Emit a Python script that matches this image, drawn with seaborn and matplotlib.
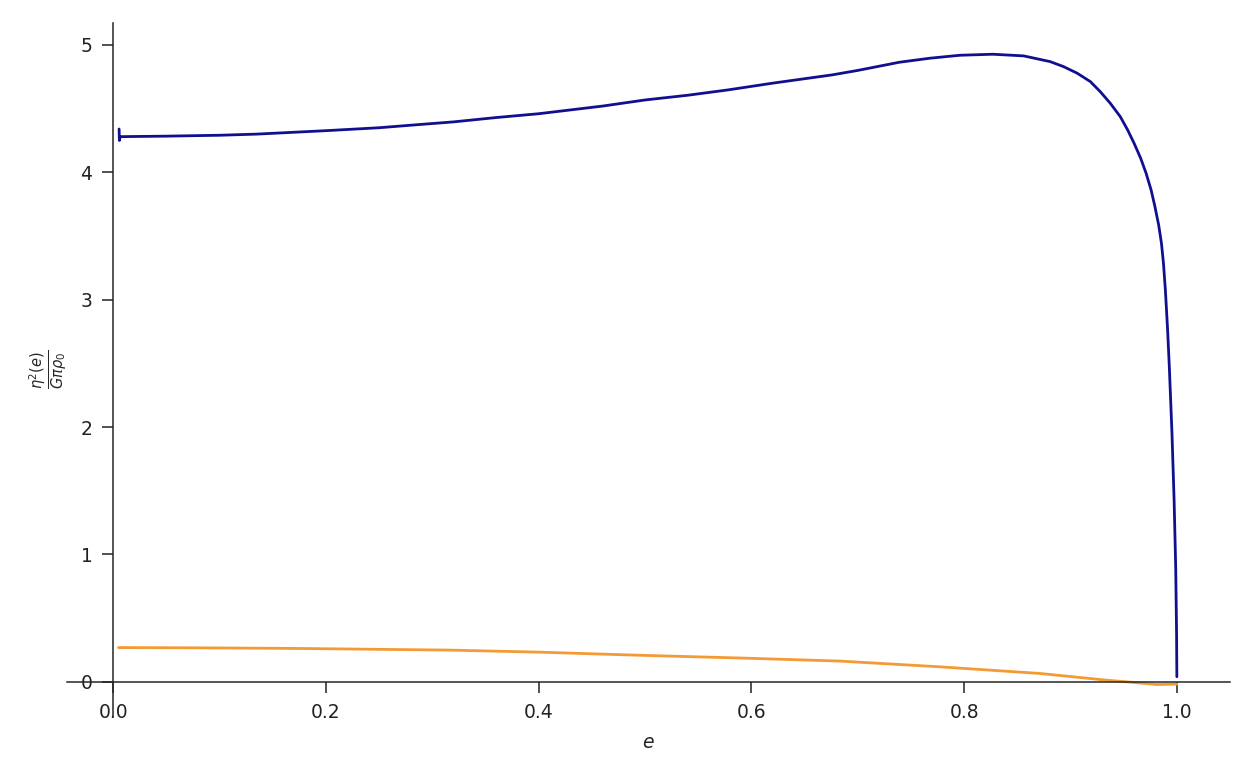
import matplotlib
matplotlib.use("Agg")
import matplotlib.pyplot as plt
import seaborn as sns

# Curva azul
e_azul = [0.0055, 0.0058, 0.0065, 0.05, 0.1, 0.135, 0.2, 0.25, 0.283, 0.32,
          0.36, 0.4, 0.43, 0.46, 0.50, 0.54, 0.578, 0.62, 0.676, 0.70,
          0.739, 0.768, 0.796, 0.827, 0.856, 0.8809, 0.8934, 0.9063, 0.9187, 0.9280,
          0.9374, 0.9468, 0.9537, 0.9598, 0.9660, 0.9711, 0.9758, 0.9794, 0.9829, 0.9855,
          0.9874, 0.9892, 0.9913, 0.9929, 0.9954, 0.9974, 0.9989, 0.99972, 1.0]
eta_azul = [4.34, 4.25, 4.28, 4.284, 4.291, 4.30, 4.327, 4.35, 4.372, 4.396,
            4.43, 4.46, 4.49, 4.52, 4.568, 4.605, 4.647, 4.70, 4.765, 4.80,
            4.864, 4.896, 4.919, 4.927, 4.914, 4.869, 4.830, 4.778, 4.712, 4.633,
            4.542, 4.437, 4.333, 4.228, 4.110, 3.992, 3.861, 3.730, 3.586, 3.443,
            3.286, 3.076, 2.762, 2.474, 1.951, 1.427, 0.903, 0.382, 0.04]

# Curva naranja
e_naranja = [0.005, 0.08, 0.1756, 0.317, 0.401, 0.489, 0.59, 0.683, 0.777,
             0.871, 0.934, 0.96, 0.981, 1.0]
eta_naranja = [0.269, 0.267, 0.262, 0.249, 0.233, 0.210, 0.187, 0.163, 0.118,
               0.066, 0.013, -0.005, -0.021, -0.018]

x_ticks = [0.0, 0.2, 0.4, 0.6, 0.8, 1.0]
y_ticks = [0, 1, 2, 3, 4, 5]

sns.set_style("ticks")
plt.rcParams['font.family'] = ['DejaVu Sans']

fig = plt.figure(figsize=(12.54, 7.66), dpi=100)
ax = fig.add_axes([0.0534, 0.0653, 0.9275, 0.9043])

sns.lineplot(x=e_azul, y=eta_azul, color='#0f0f90', linewidth=2.0, ax=ax)
sns.lineplot(x=e_naranja, y=eta_naranja, color='#f39a35', linewidth=2.0, ax=ax)

ax.set_xlim(-0.0435, 1.05)
ax.set_ylim(-0.268, 5.17)

# ejes cruzando en el origen
ax.spines['left'].set_position(('data', 0))
ax.spines['bottom'].set_position(('data', 0))
ax.spines['top'].set_visible(False)
ax.spines['right'].set_visible(False)
for s in ['left', 'bottom']:
    ax.spines[s].set_linewidth(1.1)

ax.set_xticks(x_ticks)
ax.set_yticks(y_ticks)
ax.tick_params(labelsize=13.5, length=8, width=1.1, pad=7, colors='#222222')

ax.set_xlabel('$e$', fontsize=13.5, labelpad=8)
ax.set_ylabel(r'$\frac{\eta^2(e)}{G\pi\rho_0}$', fontsize=15, labelpad=8)

fig.savefig('out.png', dpi=100)
